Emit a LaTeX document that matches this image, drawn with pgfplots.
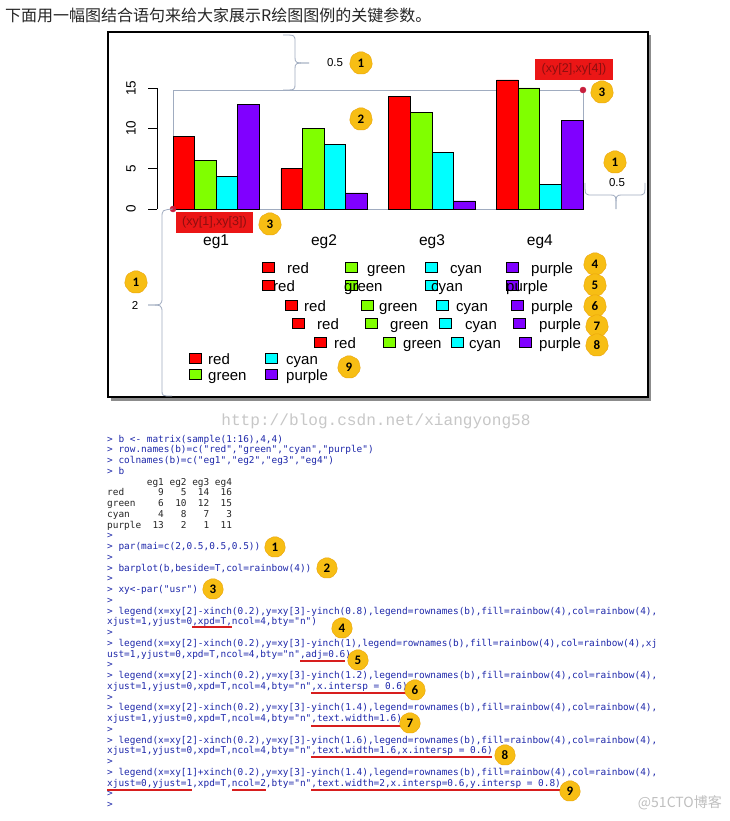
\documentclass[border=0pt]{standalone}
\usepackage{pgfplots}
\pgfplotsset{compat=1.18}
\usepackage{fontspec}
\setmainfont{Liberation Sans}
\newfontfamily\cjk{Noto Sans CJK SC}
\newfontfamily\codefont{DejaVu Sans Mono}[Ligatures=TeXOff]
\newfontfamily\wmfont{Liberation Mono}[Ligatures=TeXOff]
\newfontfamily\numfont{Carlito}
\usetikzlibrary{shapes.geometric}

\definecolor{rred}{HTML}{FF0000}
\definecolor{rgreen}{HTML}{80FF00}
\definecolor{rcyan}{HTML}{00FFFF}
\definecolor{rpurple}{HTML}{8000FF}
\definecolor{usrline}{RGB}{160,172,192}
\definecolor{dotred}{RGB}{200,30,60}
\definecolor{badge}{RGB}{247,190,20}
\definecolor{badgeedge}{RGB}{235,165,10}
\definecolor{codeblue}{RGB}{30,40,170}
\definecolor{ulred}{RGB}{215,30,30}
\definecolor{labred}{RGB}{235,22,22}
\definecolor{labtext}{RGB}{140,15,15}

\newcommand{\legfont}{\fontsize{15}{18}\selectfont}
\newcommand{\annofont}{\fontsize{11.5}{13}\selectfont}
% legend swatch and legend text (x, y = swatch centre)
\newcommand{\sw}[3]{\filldraw[fill=#3, draw=black, line width=0.6pt] (#1-6,#2-5) rectangle (#1+6,#2+5);}
\newcommand{\lt}[3]{\node[anchor=base west, inner sep=0pt, font=\legfont] at (#1,#2+6) {#3};}
% numbered yellow badge
\newcommand{\badge}[3]{\node[regular polygon, regular polygon sides=7, fill=badge, draw=badgeedge,
  minimum size=#3pt, inner sep=0pt, rounded corners=2pt,
  font=\numfont\bfseries\fontsize{13}{13}\selectfont] at (#1) {#2};}
% one console line
\newcommand{\cl}[3]{\node[anchor=base west, inner sep=0pt, text=#2,
  font=\codefont\fontsize{9.42}{11}\selectfont] at (107,{439+10.75*#1+3}) {#3};}
\newcommand{\ul}[3]{\draw[ulred, line width=1.6pt] (#1,#3) -- (#2,#3);}

\begin{document}
\begin{tikzpicture}[x=1pt,y=1pt]
\useasboundingbox (0,0) rectangle (730,-821);
\fill[white] (0,0) rectangle (730,-821);

\begin{scope}[y=-1pt]
  \node[anchor=west, inner sep=0pt, text=black!85, font=\cjk\fontsize{16}{16}\selectfont]
    at (5,15) {下面用一幅图结合语句来给大家展示R绘图图例的关键参数。};
  % frame with shadow
  \fill[black!45] (111,35) rectangle (651,401);
  \filldraw[fill=white, draw=black, line width=2.6pt] (108,32) rectangle (648,397);
\end{scope}

% bars
\begin{axis}[
  at={(173pt,-209pt)}, anchor=south west,
  scale only axis, width=410pt, height=119pt,
  xmin=1, xmax=20, ymin=0, ymax=14.75,
  clip=false,
  axis line style={draw=none},
  ytick=\empty,
  xtick={3,8,13,18},
  xticklabels={eg1,eg2,eg3,eg4},
  major tick length=0pt,
  xticklabel style={anchor=base, yshift=-36pt, font=\fontsize{15.5}{18}\selectfont},
]
\draw[usrline, line width=0.8pt] (axis cs:1,0) rectangle (axis cs:20,14.75);
\addplot[ybar, bar width=1, bar shift=0pt, fill=rred, draw=black, line width=0.7pt]
  coordinates {(1.5,9) (6.5,5) (11.5,14) (16.5,16)};
\addplot[ybar, bar width=1, bar shift=0pt, fill=rgreen, draw=black, line width=0.7pt]
  coordinates {(2.5,6) (7.5,10) (12.5,12) (17.5,15)};
\addplot[ybar, bar width=1, bar shift=0pt, fill=rcyan, draw=black, line width=0.7pt]
  coordinates {(3.5,4) (8.5,8) (13.5,7) (18.5,3)};
\addplot[ybar, bar width=1, bar shift=0pt, fill=rpurple, draw=black, line width=0.7pt]
  coordinates {(4.5,13) (9.5,2) (14.5,1) (19.5,11)};
\addplot[only marks, mark=*, mark size=3pt, color=dotred] coordinates {(1,0) (20,14.75)};
\end{axis}

% R style y axis
\begin{axis}[
  at={(157pt,-209pt)}, anchor=south west,
  scale only axis, width=10pt, height=121pt,
  xmin=0, xmax=1, ymin=0, ymax=15,
  axis x line=none, axis y line=left,
  axis line style={-, line width=0.8pt, black},
  xtick=\empty,
  ytick={0,5,10,15}, yticklabels={0,5,10,15},
  tick align=outside, major tick length=9pt,
  tick style={black, line width=0.8pt},
  yticklabel shift=12pt,
  yticklabel style={rotate=90, anchor=south, inner sep=0pt, font=\fontsize{13.5}{15}\selectfont},
]
\end{axis}

\begin{scope}[y=-1pt]
  % braces
  \begin{scope}[usrline, line width=0.8pt]
    \draw (283,35) .. controls (295,35) .. (295,42) -- (295,57) .. controls (295,63) .. (309,63);
    \draw (309,63) .. controls (295,63) .. (295,69) -- (295,84) .. controls (295,90) .. (283,90);
    \draw (585,183) .. controls (585,195) .. (592,195) -- (610,195) .. controls (616,195) .. (616,209);
    \draw (616,209) .. controls (616,195) .. (622,195) -- (638,195) .. controls (645,195) .. (645,183);
    \draw (173,209) .. controls (162,210) .. (162,218) -- (162,297) .. controls (162,305) .. (148,305);
    \draw (148,305) .. controls (162,305) .. (162,313) -- (162,390) .. controls (162,396) .. (172,396);
  \end{scope}
  \node[font=\annofont] at (335,63) {0.5};
  \node[font=\annofont] at (617,183) {0.5};
  \node[font=\annofont] at (135,305) {2};
  % red labels
  \node[fill=labred, minimum width=77pt, minimum height=21pt, inner sep=0pt, text=labtext,
    font=\fontsize{12.5}{14}\selectfont] at (214.5,222.5) {(xy[1],xy[3])};
  \node[fill=labred, minimum width=78pt, minimum height=21pt, inner sep=0pt, text=labtext,
    font=\fontsize{12.5}{14}\selectfont] at (574,69.5) {(xy[2],xy[4])};

  % legends 4 to 9
  \sw{268}{267}{rred}\lt{287}{267}{red}
  \sw{351}{267}{rgreen}\lt{367}{267}{green}
  \sw{431}{267}{rcyan}\lt{450}{267}{cyan}
  \sw{512}{267}{rpurple}\lt{531}{267}{purple}

  \sw{268}{285}{rred}\lt{273}{285}{red}
  \sw{351}{285}{rgreen}\lt{344}{285}{green}
  \sw{431}{285}{rcyan}\lt{431}{285}{cyan}
  \sw{512}{285}{rpurple}\lt{506}{285}{purple}

  \sw{291}{305}{rred}\lt{304}{305}{red}
  \sw{367}{305}{rgreen}\lt{379}{305}{green}
  \sw{442}{305}{rcyan}\lt{456}{305}{cyan}
  \sw{517}{305}{rpurple}\lt{531}{305}{purple}

  \sw{298}{323}{rred}\lt{317}{323}{red}
  \sw{371}{323}{rgreen}\lt{390}{323}{green}
  \sw{445}{323}{rcyan}\lt{465}{323}{cyan}
  \sw{519}{323}{rpurple}\lt{539}{323}{purple}

  \sw{320}{342}{rred}\lt{334}{342}{red}
  \sw{389}{342}{rgreen}\lt{403}{342}{green}
  \sw{457}{342}{rcyan}\lt{469}{342}{cyan}
  \sw{525}{342}{rpurple}\lt{539}{342}{purple}

  \sw{195}{358}{rred}\lt{208}{358}{red}
  \sw{195}{374}{rgreen}\lt{208}{374}{green}
  \sw{271}{358}{rcyan}\lt{286}{358}{cyan}
  \sw{271}{374}{rpurple}\lt{286}{374}{purple}

  % badges on the chart
  \badge{361,63}{1}{24}
  \badge{361,119}{2}{24}
  \badge{602,92}{3}{24}
  \badge{615,162}{1}{24}
  \badge{270,224}{3}{24}
  \badge{136,282}{1}{24}
  \badge{595,264}{4}{24}
  \badge{595,285}{5}{24}
  \badge{595,306}{6}{24}
  \badge{597,326}{7}{24}
  \badge{597,345}{8}{24}
  \badge{349,367}{9}{24}

  % watermark and console
  \node[font=\wmfont\fontsize{16.1}{17}\selectfont, text=black!22] at (376,421) {http://blog.csdn.net/xiangyong58};

  \cl{0}{codeblue}{> b <- matrix(sample(1:16),4,4)}
  \cl{1}{codeblue}{> row.names(b)=c("red","green","cyan","purple")}
  \cl{2}{codeblue}{> colnames(b)=c("eg1","eg2","eg3","eg4")}
  \cl{3}{codeblue}{> b}
  \cl{4}{black!85}{~~~~~~~eg1 eg2 eg3 eg4}
  \cl{5}{black!85}{red~~~~~~9~~~5~~14~~16}
  \cl{6}{black!85}{green~~~~6~~10~~12~~15}
  \cl{7}{black!85}{cyan~~~~~4~~~8~~~7~~~3}
  \cl{8}{black!85}{purple~~13~~~2~~~1~~11}
  \cl{9}{codeblue}{>}
  \cl{10}{codeblue}{> par(mai=c(2,0.5,0.5,0.5))}
  \cl{11}{codeblue}{>}
  \cl{12}{codeblue}{> barplot(b,beside=T,col=rainbow(4))}
  \cl{13}{codeblue}{>}
  \cl{14}{codeblue}{> xy<-par("usr")}
  \cl{15}{codeblue}{>}
  \cl{16}{codeblue}{> legend(x=xy[2]-xinch(0.2),y=xy[3]-yinch(0.8),legend=rownames(b),fill=rainbow(4),col=rainbow(4),}
  \cl{17}{codeblue}{xjust=1,yjust=0,xpd=T,ncol=4,bty="n")}
  \cl{18}{codeblue}{>}
  \cl{19}{codeblue}{> legend(x=xy[2]-xinch(0.2),y=xy[3]-yinch(1),legend=rownames(b),fill=rainbow(4),col=rainbow(4),xj}
  \cl{20}{codeblue}{ust=1,yjust=0,xpd=T,ncol=4,bty="n",adj=0.6)}
  \cl{21}{codeblue}{>}
  \cl{22}{codeblue}{> legend(x=xy[2]-xinch(0.2),y=xy[3]-yinch(1.2),legend=rownames(b),fill=rainbow(4),col=rainbow(4),}
  \cl{23}{codeblue}{xjust=1,yjust=0,xpd=T,ncol=4,bty="n",x.intersp = 0.6)}
  \cl{24}{codeblue}{>}
  \cl{25}{codeblue}{> legend(x=xy[2]-xinch(0.2),y=xy[3]-yinch(1.4),legend=rownames(b),fill=rainbow(4),col=rainbow(4),}
  \cl{26}{codeblue}{xjust=1,yjust=0,xpd=T,ncol=4,bty="n",text.width=1.6)}
  \cl{27}{codeblue}{>}
  \cl{28}{codeblue}{> legend(x=xy[2]-xinch(0.2),y=xy[3]-yinch(1.6),legend=rownames(b),fill=rainbow(4),col=rainbow(4),}
  \cl{29}{codeblue}{xjust=1,yjust=0,xpd=T,ncol=4,bty="n",text.width=1.6,x.intersp = 0.6)}
  \cl{30}{codeblue}{>}
  \cl{31}{codeblue}{> legend(x=xy[1]+xinch(0.2),y=xy[3]-yinch(1.4),legend=rownames(b),fill=rainbow(4),col=rainbow(4),}
  \cl{32}{codeblue}{xjust=0,yjust=1,xpd=T,ncol=2,bty="n",text.width=2,x.intersp=0.6,y.intersp = 0.8)}
  \cl{33}{codeblue}{>}
  \cl{34}{codeblue}{>}

  % red underlines
  \ul{192}{232}{627}
  \ul{300}{345}{661}
  \ul{311}{408}{693}
  \ul{311}{402}{726}
  \ul{311}{492}{757}
  \ul{107}{192}{790}
  \ul{232}{266}{790}
  \ul{311}{566}{790}

  % badges beside the code
  \badge{275,547}{1}{22}
  \badge{327,568}{2}{22}
  \badge{213,589}{3}{22}
  \badge{342,628}{4}{22}
  \badge{358,660}{5}{22}
  \badge{415,690}{6}{22}
  \badge{410,723}{7}{22}
  \badge{505,755}{8}{22}
  \badge{570,791}{9}{22}

  \node[anchor=east, inner sep=0pt, text=black!25, font=\cjk\fontsize{14}{14}\selectfont] at (722,803) {@51CTO博客};
\end{scope}
\end{tikzpicture}
\end{document}
